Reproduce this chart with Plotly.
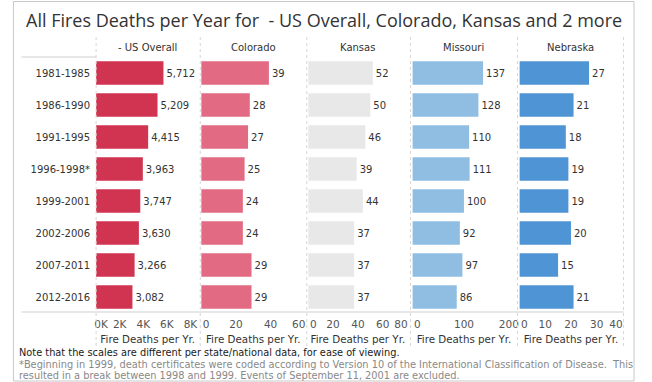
import plotly.graph_objects as go

periods = ["1981-1985", "1986-1990", "1991-1995", "1996-1998*", "1999-2001",
           "2002-2006", "2007-2011", "2012-2016"]
us_overall = [5712, 5209, 4415, 3963, 3747, 3630, 3266, 3082]
colorado = [39, 28, 27, 25, 24, 24, 29, 29]
kansas = [52, 50, 46, 39, 44, 37, 37, 37]
missouri = [137, 128, 110, 111, 100, 92, 97, 86]
nebraska = [27, 21, 18, 19, 19, 20, 15, 21]

panel_names = ["- US Overall", "Colorado", "Kansas", "Missouri", "Nebraska"]
panel_values = [us_overall, colorado, kansas, missouri, nebraska]
panel_colors = ["#d13450", "#e26a82", "#e8e8e8", "#8fbee2", "#4f95d5"]
panel_ranges = [[0, 8750], [0, 60], [0, 80], [0, 200], [0, 40]]
panel_tickvals = [[0, 2000, 4000, 6000, 8000], [0, 20, 40, 60], [0, 20, 40, 60, 80],
                  [0, 100, 200], [0, 10, 20, 30, 40]]
panel_ticktext = [["0K", "2K", "4K", "6K", "8K"], ["0", "20", "40", "60"],
                  ["0", "20", "40", "60", "80"], ["0", "100", "200"],
                  ["0", "10", "20", "30", "40"]]
axis_title = "Fire Deaths per Yr."

W, H = 652, 382
panel_px = [(88, 196), (198, 307), (310, 414), (419, 527), (531, 639)]
plot_top, plot_bot = 57, 313

def px(x):
    return x / W

def py(y):
    return 1 - y / H

NB = "\u00a0"

def fit_labels(labels, last_at_edge):
    # keep edge labels inside the panel (first shifted right, last shifted left)
    out = list(labels)
    out[0] = NB * 3 + out[0]
    if last_at_edge:
        out[-1] = out[-1] + NB * 4
    return out

FONT = "DejaVu Sans"
fig = go.Figure()
layout = dict(
    width=W, height=H,
    margin=dict(l=0, r=0, t=0, b=0),
    paper_bgcolor="white", plot_bgcolor="white",
    showlegend=False,
    bargap=0.26,
    font=dict(family=FONT, size=10, color="#333"),
)

for i, (name, vals, col) in enumerate(zip(panel_names, panel_values, panel_colors)):
    xa = "x" if i == 0 else f"x{i+1}"
    fig.add_trace(go.Bar(
        x=vals, y=periods, orientation="h", xaxis=xa, yaxis="y",
        marker=dict(color=col, line=dict(width=0)),
        text=vals, texttemplate="%{x:,}", textposition="outside",
        textfont=dict(family=FONT, size=10, color="#333"),
        cliponaxis=False, hoverinfo="skip",
    ))
    key = "xaxis" if i == 0 else f"xaxis{i+1}"
    x0, x1 = panel_px[i]
    layout[key] = dict(
        domain=[px(x0), px(x1)], anchor="y", range=panel_ranges[i],
        tickvals=panel_tickvals[i],
        ticktext=fit_labels(panel_ticktext[i], i != 0),
        showgrid=False, zeroline=False, showline=False,
        ticklabelstandoff=3,
        tickfont=dict(family=FONT, size=10.5, color="#555"),
        title=dict(text=axis_title, font=dict(family=FONT, size=10.3, color="#333"), standoff=7),
        fixedrange=True,
    )
    fig.add_annotation(x=px((x0 + x1) / 2), y=py(47), xref="paper", yref="paper",
                       xanchor="center", yanchor="middle",
                       text=name, showarrow=False,
                       font=dict(family=FONT, size=10, color="#333"))

layout["yaxis"] = dict(
    domain=[py(plot_bot), py(plot_top)], anchor="x",
    categoryorder="array", categoryarray=periods, autorange="reversed",
    showgrid=False, zeroline=False, showline=False,
    ticks="outside", ticklen=3, tickcolor="white",
    tickfont=dict(family=FONT, size=10, color="#333"),
    fixedrange=True,
)

shapes = []
for xs in [88, 197, 308.5, 417, 529, 640]:
    shapes.append(dict(type="line", xref="paper", yref="paper",
                       x0=px(xs), x1=px(xs), y0=py(37), y1=py(347),
                       line=dict(color="#d6d6d6", width=1, dash="dot")))
shapes.append(dict(type="line", xref="paper", yref="paper",
                   x0=px(10), x1=px(88), y0=py(57), y1=py(57),
                   line=dict(color="#cfcfcf", width=1)))
shapes.append(dict(type="line", xref="paper", yref="paper",
                   x0=px(10), x1=px(640), y0=py(312), y1=py(312),
                   line=dict(color="#cfcfcf", width=1)))
shapes.append(dict(type="rect", xref="paper", yref="paper",
                   x0=px(1.5), x1=px(651), y0=py(381), y1=py(1.5),
                   line=dict(color="#c8c8c8", width=1)))
layout["shapes"] = shapes

fig.update_layout(**layout)

fig.add_annotation(x=px(327), y=py(20), xref="paper", yref="paper",
                   xanchor="center", yanchor="middle",
                   text="All Fires Deaths per Year for  - US Overall, Colorado, Kansas and 2 more",
                   showarrow=False, font=dict(family="Open Sans", size=18, color="#333"))
fig.add_annotation(x=px(5), y=py(352), xref="paper", yref="paper", xanchor="left", yanchor="middle",
                   text="Note that the scales are different per state/national data, for ease of viewing.",
                   showarrow=False, font=dict(family=FONT, size=9.8, color="#1a1a1a"))
fig.add_annotation(x=px(5), y=py(364), xref="paper", yref="paper", xanchor="left", yanchor="middle",
                   text="*Beginning in 1999, death certificates were coded according to Version 10 of the International Classification of Disease.  This",
                   showarrow=False, font=dict(family=FONT, size=9.8, color="#888"))
fig.add_annotation(x=px(5), y=py(375), xref="paper", yref="paper", xanchor="left", yanchor="middle",
                   text="resulted in a break between 1998 and 1999. Events of September 11, 2001 are excluded.",
                   showarrow=False, font=dict(family=FONT, size=9.8, color="#888"))

fig.write_html("out.html")
